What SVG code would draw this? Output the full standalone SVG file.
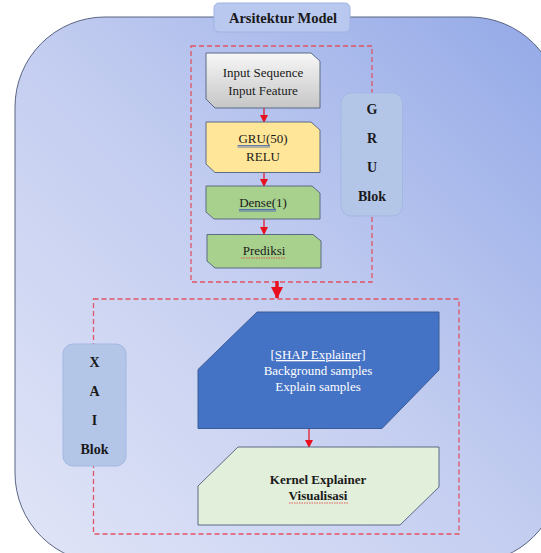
<svg xmlns="http://www.w3.org/2000/svg" width="541" height="553" viewBox="0 0 541 553">
<defs>
<linearGradient id="bg" x1="0" y1="1" x2="1" y2="0">
<stop offset="0" stop-color="#e1e5f7"/>
<stop offset="0.5" stop-color="#c3cdf0"/>
<stop offset="1" stop-color="#92a8e7"/>
</linearGradient>
<linearGradient id="gray" x1="0" y1="0" x2="0" y2="1">
<stop offset="0" stop-color="#f7f7f7"/>
<stop offset="1" stop-color="#c6c6c6"/>
</linearGradient>
<marker id="ah" markerWidth="8" markerHeight="8" refX="7" refY="4" orient="auto" markerUnits="userSpaceOnUse">
<path d="M0,0 L8,4 L0,8 Z" fill="#e8101e"/>
</marker>
<marker id="ahb" markerWidth="12" markerHeight="12" refX="11" refY="6" orient="auto" markerUnits="userSpaceOnUse">
<path d="M0,0 L12,6 L0,12 Z" fill="#e8101e"/>
</marker>
</defs>
<style>
.t{font-family:"Liberation Serif","Times New Roman",serif;font-size:13px;fill:#1a1a1a;text-anchor:middle}
.b{font-weight:bold}
.node{stroke:#5b6b86;stroke-width:1}
.dash{fill:none;stroke:#e05464;stroke-width:1.3;stroke-dasharray:5,3}
.blk{fill:#b4c6e8;stroke:#a3b7e2;stroke-width:1}
.con{stroke:#e8101e;stroke-width:1.2;fill:none}
.ul{stroke:#3b5ab0;stroke-width:0.8}
.wv{stroke:#e0202a;stroke-width:0.7;fill:none;stroke-dasharray:1.5,1}
</style>
<g id="container">
<rect x="15" y="17" width="545" height="546" rx="90" ry="90" fill="url(#bg)" stroke="#5a6583" stroke-width="1"/>
</g>
<g id="title">
<rect x="214" y="3" width="136" height="29" rx="5" fill="#b9c8ef" stroke="#9fb3e2"/>
<text class="t b" x="283" y="23" style="font-size:14.5px">Arsitektur Model</text>
</g>
<g id="gru-group">
<rect class="dash" x="191" y="46" width="181" height="236"/>
</g>
<g id="xai-group">
<rect class="dash" x="93.5" y="299" width="365.5" height="235"/>
</g>
<g id="gru-blok">
<rect class="blk" x="341" y="93" width="61.5" height="123" rx="10"/>
<text class="t b" x="372" y="114" style="font-size:14px">G</text>
<text class="t b" x="372" y="143" style="font-size:14px">R</text>
<text class="t b" x="372" y="172" style="font-size:14px">U</text>
<text class="t b" x="372" y="201" style="font-size:14px">Blok</text>
</g>
<g id="xai-blok">
<rect class="blk" x="63" y="344" width="63" height="122" rx="10"/>
<text class="t b" x="94.5" y="367" style="font-size:14px">X</text>
<text class="t b" x="94.5" y="396" style="font-size:14px">A</text>
<text class="t b" x="94.5" y="424.5" style="font-size:14px">I</text>
<text class="t b" x="94.5" y="454" style="font-size:14px">Blok</text>
</g>
<g id="connectors">
<line class="con" x1="264" y1="108" x2="264" y2="122" marker-end="url(#ah)"/>
<line class="con" x1="264" y1="172.5" x2="264" y2="186" marker-end="url(#ah)"/>
<line class="con" x1="264" y1="219" x2="264" y2="234" marker-end="url(#ah)"/>
<line class="con" x1="309" y1="428.5" x2="309" y2="447" marker-end="url(#ah)"/>
<line x1="277" y1="281" x2="277" y2="298" stroke="#e8101e" stroke-width="3.5" marker-end="url(#ahb)"/>
</g>
<g id="input">
<path class="node" d="M206,53 L311,53 L320,61 L320,108 L215,108 L206,99 Z" fill="url(#gray)"/>
<text class="t" x="263" y="77">Input Sequence</text>
<text class="t" x="263" y="95">Input Feature</text>
</g>
<g id="gru">
<path class="node" d="M206,122 L311,122 L320,130 L320,172.5 L215,172.5 L206,164 Z" fill="#ffe699"/>
<text class="t" x="263" y="143">GRU(50)</text>
<line class="ul" x1="237.5" y1="145.5" x2="270" y2="145.5"/>
<line class="ul" x1="237.5" y1="147" x2="270" y2="147"/>
<text class="t" x="263" y="161">RELU</text>
</g>
<g id="dense">
<path class="node" d="M206,186 L312,186 L320,193 L320,219 L214,219 L206,212 Z" fill="#a9d18e"/>
<text class="t" x="263" y="207">Dense(1)</text>
<line class="ul" x1="239" y1="209.5" x2="276" y2="209.5"/>
<line class="ul" x1="239" y1="211" x2="276" y2="211"/>
</g>
<g id="prediksi">
<path class="node" d="M207,234.5 L313,234.5 L321,241 L321,268 L215,268 L207,261 Z" fill="#a9d18e"/>
<text class="t" x="264" y="255">Prediksi</text>
<line class="wv" x1="241" y1="258" x2="286" y2="258"/>
</g>
<g id="shap">
<path d="M198,369.5 L257,312 L439,312 L439,370 L382,428.5 L198,428.5 Z" fill="#4472c4" stroke="#3b5c97" stroke-width="1"/>
<text class="t" x="318" y="359" style="fill:#ffffff;text-decoration:underline">[SHAP Explainer]</text>
<text class="t" x="318" y="375" style="fill:#ffffff">Background samples</text>
<text class="t" x="318" y="391" style="fill:#ffffff">Explain samples</text>
</g>
<g id="kernel">
<path class="node" d="M238,447 L439,447 L439,487 L400,525 L198,525 L198,486 Z" fill="#e2efda"/>
<text class="t b" x="318" y="484">Kernel Explainer</text>
<text class="t b" x="318" y="500">Visualisasi</text>
<line class="wv" x1="289" y1="503" x2="348" y2="503"/>
</g>
</svg>
